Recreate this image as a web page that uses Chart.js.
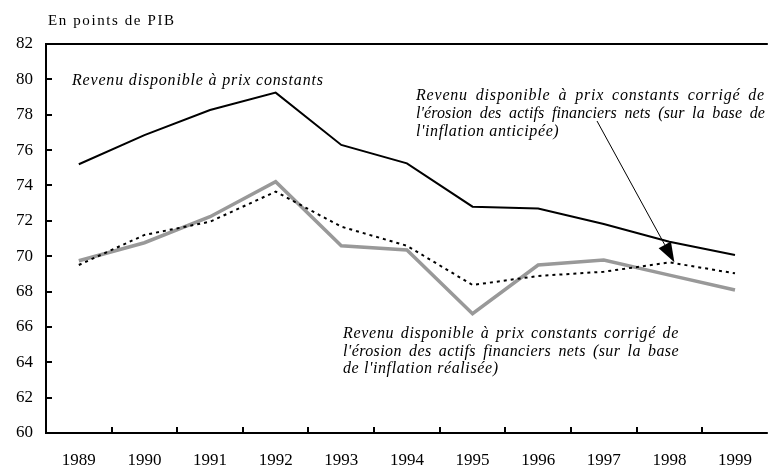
<!DOCTYPE html>
<html>
<head>
<meta charset="utf-8">
<script src="https://cdn.jsdelivr.net/npm/chart.js@4/dist/chart.umd.min.js"></script>
<style>
  html, body { margin: 0; padding: 0; background: #fff; }
  #wrap { width: 769px; height: 467px; position: relative; }
</style>
</head>
<body>
<div id="wrap"><canvas id="chart"></canvas></div>
<script>
// ── DATA (en points de PIB) ──
const years = ['1989', '1990', '1991', '1992', '1993', '1994', '1995', '1996', '1997', '1998', '1999'];
const revenuConstant   = [75.2, 76.85, 78.27, 79.25, 76.29, 75.25, 72.8, 72.7, 71.82, 70.82, 70.07];
const revenuAnticipee  = [69.5, 71.2, 71.95, 73.65, 71.67, 70.59, 68.37, 68.88, 69.12, 69.65, 69.03];
const revenuRealisee   = [69.74, 70.76, 72.23, 74.21, 70.59, 70.35, 66.75, 69.5, 69.78, 68.93, 68.09];
const yMin = 60, yMax = 82, yStep = 2;

const SERIF = "'Liberation Serif', 'Times New Roman', serif";

// ── TEXT HELPERS ──
// draw a line letter-spaced so it fills the given width
function fitText(ctx, text, x, y, width) {
  ctx.letterSpacing = '0px';
  const nat = ctx.measureText(text).width;
  const ls = (width - nat) / Math.max(1, text.length - 1);
  ctx.letterSpacing = ls + 'px';
  ctx.fillText(text, x, y);
  ctx.letterSpacing = '0px';
}
// justified line: letters spaced by ls, extra room spread over word gaps
function justify(ctx, text, x, y, width, ls) {
  const words = text.split(' ');
  ctx.letterSpacing = ls + 'px';
  const widths = words.map(w => ctx.measureText(w).width);
  const total = widths.reduce((a, b) => a + b, 0);
  const gap = (width - total) / Math.max(1, words.length - 1);
  let cx = x;
  words.forEach((w, i) => { ctx.fillText(w, cx, y); cx += widths[i] + gap; });
  ctx.letterSpacing = '0px';
}
function plain(ctx, text, x, y, ls) {
  ctx.letterSpacing = ls + 'px';
  ctx.fillText(text, x, y);
  ctx.letterSpacing = '0px';
}

// ── FRAME, TICKS, ANNOTATIONS ──
const decor = {
  id: 'decor',
  afterDatasetsDraw(chart) {
    const { ctx, chartArea: a, scales: { x, y } } = chart;
    ctx.save();
    ctx.strokeStyle = '#000';
    ctx.lineWidth = 2;
    ctx.beginPath();
    ctx.moveTo(a.left, a.top); ctx.lineTo(a.right, a.top);
    ctx.moveTo(a.left, a.top - 1); ctx.lineTo(a.left, a.bottom + 1);
    ctx.moveTo(a.left - 1, a.bottom); ctx.lineTo(a.right, a.bottom);
    ctx.stroke();

    // y ticks (inward)
    ctx.beginPath();
    for (let v = yMin; v <= yMax; v += yStep) {
      const py = Math.round(y.getPixelForValue(v));
      ctx.moveTo(a.left, py); ctx.lineTo(a.left + 6, py);
    }
    // x ticks between categories (inward)
    for (let i = 0; i < years.length - 1; i++) {
      const px = Math.round((x.getPixelForValue(i) + x.getPixelForValue(i + 1)) / 2);
      ctx.moveTo(px, a.bottom); ctx.lineTo(px, a.bottom - 6);
    }
    ctx.stroke();

    // unit label
    ctx.fillStyle = '#000';
    ctx.textBaseline = 'alphabetic';
    ctx.font = '15px ' + SERIF;
    fitText(ctx, 'En points de PIB', 48, 25, 126);

    ctx.font = 'italic 16px ' + SERIF;
    fitText(ctx, 'Revenu disponible à prix constants', 72, 85, 251);

    justify(ctx, 'Revenu disponible à prix constants corrigé de', 416, 100, 349, 0.8);
    justify(ctx, "l'érosion des actifs financiers nets (sur la base de", 416, 118, 349, 0.1);
    plain(ctx, "l'inflation anticipée)", 416, 136, 0.6);

    justify(ctx, 'Revenu disponible à prix constants corrigé de', 343, 338, 336, 0.7);
    justify(ctx, "l'érosion des actifs financiers nets (sur la base", 343, 356, 336, 0.4);
    plain(ctx, "de l'inflation réalisée)", 343, 373, 0.6);

    // arrow to the anticipated-inflation series
    const x0 = 597, y0 = 121;
    const x1 = x.getPixelForValue(9) + 5, y1 = y.getPixelForValue(revenuAnticipee[9]);
    const ang = Math.atan2(y1 - y0, x1 - x0);
    const hl = 20, hw = 7;
    const bx = x1 - hl * Math.cos(ang), by = y1 - hl * Math.sin(ang);
    ctx.lineWidth = 1;
    ctx.beginPath();
    ctx.moveTo(x0, y0); ctx.lineTo(bx, by);
    ctx.stroke();
    ctx.beginPath();
    ctx.moveTo(x1, y1);
    ctx.lineTo(bx + hw * Math.sin(ang), by - hw * Math.cos(ang));
    ctx.lineTo(bx - hw * Math.sin(ang), by + hw * Math.cos(ang));
    ctx.closePath();
    ctx.fill();
    ctx.restore();
  }
};

const lineStyle = (color, width, dash = []) => ({
  borderColor: color,
  backgroundColor: 'transparent',
  borderWidth: width,
  borderDash: dash,
  pointRadius: 0,
  tension: 0,
  fill: false
});

new Chart(document.getElementById('chart'), {
  type: 'line',
  data: {
    labels: years,
    datasets: [
      { label: 'Revenu disponible à prix constants', data: revenuConstant, ...lineStyle('#000', 2) },
      { label: 'Corrigé (inflation anticipée)', data: revenuAnticipee, ...lineStyle('#000', 2, [3, 4]) },
      { label: 'Corrigé (inflation réalisée)', data: revenuRealisee, ...lineStyle('#999', 3.5) }
    ]
  },
  options: {
    animation: false,
    responsive: true,
    maintainAspectRatio: false,
    layout: { padding: { top: 44, right: 0, left: 0, bottom: 0 } },
    plugins: { legend: { display: false }, tooltip: { enabled: false } },
    scales: {
      x: {
        offset: true,
        grid: { display: false, drawTicks: false },
        border: { display: false },
        ticks: {
          color: '#000',
          font: { family: SERIF, size: 17 },
          padding: 17,
          maxRotation: 0,
          autoSkip: false
        },
        afterFit: s => { s.height = 34; }
      },
      y: {
        min: yMin,
        max: yMax,
        grid: { display: false, drawTicks: false },
        border: { display: false },
        ticks: {
          color: '#000',
          stepSize: yStep,
          font: { family: SERIF, size: 17 },
          padding: 13
        },
        afterFit: s => { s.width = 46; }
      }
    }
  },
  plugins: [decor]
});
</script>
</body>
</html>
